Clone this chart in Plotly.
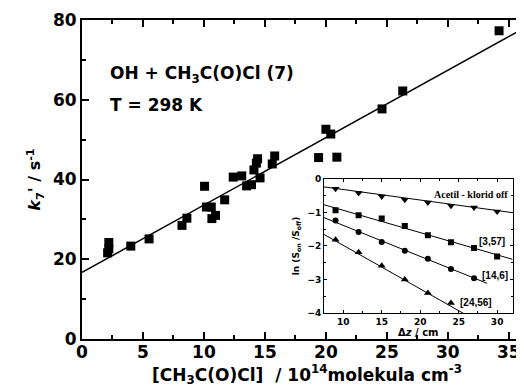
import plotly.graph_objects as go

# ---- main data ----
conc = [2.2, 2.2, 2.1, 4.0, 5.5, 8.2, 8.6, 10.05, 10.2, 10.6, 10.65, 10.95, 11.7,
        12.4, 13.1, 13.5, 13.9, 14.1, 14.3, 14.4, 14.6, 15.6, 15.8, 19.4, 20.0,
        20.4, 20.9, 24.6, 26.3, 34.2]
k7 = [24.2, 22.6, 21.6, 23.3, 25.1, 28.5, 30.3, 38.3, 33.1, 33.1, 30.2, 31.0, 34.9,
      40.6, 40.9, 38.4, 38.7, 42.4, 44.1, 45.2, 40.4, 43.9, 45.9, 45.5, 52.6,
      51.4, 45.6, 57.7, 62.2, 77.3]
fit_intercept = 16.7
fit_slope = 1.69
fit_x = [0, 37]

# ---- inset data ----
dz = [9, 12, 15, 18, 21, 24, 27, 30]
ln_off = [-0.29, -0.42, -0.52, -0.62, -0.70, -0.80, -0.85, -0.97]
ln_357 = [-0.93, -1.08, -1.18, -1.40, -1.68, -1.89, -2.06, -2.31]
dz_146 = [9, 12, 15, 18, 21, 24, 27]
ln_146 = [-1.24, -1.58, -1.88, -2.14, -2.38, -2.69, -2.96]
dz_2456 = [9, 12, 15, 18, 21, 24]
ln_2456 = [-1.81, -2.19, -2.59, -3.00, -3.40, -3.70]
# line fits: (intercept at dz=0, slope, x_start, x_end)
inset_fits = {
    "off": (-0.0, -0.0314, 7.5, 32),
    "357": (-0.27, -0.0665, 7.5, 32),
    "146": (-0.46, -0.0925, 7.5, 28.7),
    "2456": (-0.68, -0.130, 7.5, 26),
}
inset_labels = ["Acetil - klorid off", "[3,57]", "[14,6]", "[24,56]"]

FONT = "DejaVu Sans"
FONT2 = "Liberation Sans"
fig = go.Figure()

fig.add_trace(go.Scatter(
    x=fit_x, y=[fit_intercept + fit_slope * v for v in fit_x],
    mode="lines", line=dict(color="black", width=1.5), showlegend=False))
fig.add_trace(go.Scatter(
    x=conc, y=k7, mode="markers",
    marker=dict(symbol="square", size=9, color="black"), showlegend=False))

series = [
    ("off", dz, ln_off, "triangle-down", 7),
    ("357", dz, ln_357, "square", 6),
    ("146", dz_146, ln_146, "circle", 6),
    ("2456", dz_2456, ln_2456, "triangle-up", 7),
]
for key, xs, ys, sym, sz in series:
    b, m, x0, x1 = inset_fits[key]
    fig.add_trace(go.Scatter(
        x=[x0, x1], y=[b + m * x0, b + m * x1], mode="lines",
        line=dict(color="black", width=1), xaxis="x2", yaxis="y2",
        showlegend=False))
    fig.add_trace(go.Scatter(
        x=xs, y=ys, mode="markers", xaxis="x2", yaxis="y2",
        marker=dict(symbol=sym, size=sz, color="black"), showlegend=False))

tickfont_main = dict(family=FONT, size=17, color="black")
tickfont_in = dict(family=FONT, size=9, color="black")
B = dict(tickprefix="<b>", ticksuffix="</b>")

fig.update_layout(
    width=524, height=389,
    margin=dict(l=74, r=0, t=12, b=58),
    plot_bgcolor="white", paper_bgcolor="white",
    xaxis=dict(
        range=[0, 36.9], domain=[0, 1], showline=True, linecolor="black", linewidth=2,
        mirror="ticks", ticks="inside", ticklen=7, tickwidth=1.5, tickcolor="black",
        dtick=5, tick0=0, showgrid=False, zeroline=False, tickfont=tickfont_main,
        ticklabelstandoff=-3,
        minor=dict(ticks="inside", ticklen=4, dtick=2.5, tickcolor="black", tickwidth=1.5),
        title=dict(text="<b>[CH<sub>3</sub>C(O)Cl]  / 10<sup>14</sup>molekula cm<sup>-3</sup></b>",
                   font=dict(family=FONT, size=17, color="black"), standoff=0),
        **B,
    ),
    yaxis=dict(
        range=[0, 80], domain=[0, 1], showline=True, linecolor="black", linewidth=2,
        mirror=False, ticks="inside", ticklen=7, tickwidth=1.5, tickcolor="black",
        dtick=20, tick0=0, showgrid=False, zeroline=False, tickfont=tickfont_main,
        minor=dict(ticks="inside", ticklen=4, dtick=10, tickcolor="black", tickwidth=1.5),
        title=dict(text="<b><i>k</i><sub>7</sub>' / s<sup>-1</sup></b>",
                   font=dict(family=FONT, size=16, color="black"), standoff=8),
        **B,
    ),
    xaxis2=dict(
        range=[7.5, 32], domain=[0.5378, 0.9567], anchor="y2", showline=True,
        linecolor="black", linewidth=1, mirror="ticks", ticks="inside", ticklen=3,
        tickcolor="black", dtick=5, tick0=0, showgrid=False, zeroline=False,
        tickfont=tickfont_in,
        minor=dict(ticks="inside", ticklen=2, dtick=2.5, tickcolor="black"),
        title=dict(text="<b>\u0394<i>z</i> / cm</b>",
                   font=dict(family=FONT, size=10, color="black"), standoff=0),
        **B,
    ),
    yaxis2=dict(
        range=[-4, 0], domain=[0.0815, 0.5016], anchor="x2", showline=True,
        linecolor="black", linewidth=1, mirror="ticks", ticks="inside", ticklen=3,
        tickcolor="black", dtick=1, tick0=0, showgrid=False, zeroline=False,
        tickfont=tickfont_in,
        minor=dict(ticks="inside", ticklen=2, dtick=0.5, tickcolor="black"),
        title=dict(text="<b>ln (S<sub>on</sub> /S<sub>off</sub>)</b>",
                   font=dict(family=FONT, size=9, color="black"), standoff=6),
        **B,
    ),
)

fig.add_shape(type="rect", xref="x2 domain", yref="y2 domain", x0=0, x1=1, y0=0, y1=1,
              fillcolor="white", line=dict(width=0), layer="below")

fig.add_annotation(x=0.058, y=0.828, xref="paper", yref="paper", xanchor="left",
                   yanchor="middle", showarrow=False,
                   text="<b>OH + CH<sub>3</sub>C(O)Cl (7)</b>",
                   font=dict(family=FONT, size=17, color="black"))
fig.add_annotation(x=0.058, y=0.734, xref="paper", yref="paper", xanchor="left",
                   yanchor="middle", showarrow=False, text="<b>T = 298 K</b>",
                   font=dict(family=FONT, size=17, color="black"))

lab_pos = [(31.7, -0.45, "Liberation Serif", 10), (31.3, -1.88, FONT2, 10),
           (31.7, -2.88, FONT2, 10), (29.6, -3.70, FONT2, 10)]
for txt, (lx, ly, fam, fs) in zip(inset_labels, lab_pos):
    fig.add_annotation(x=lx, y=ly, xref="x2", yref="y2", xanchor="right",
                       yanchor="middle", showarrow=False, text="<b>" + txt + "</b>",
                       font=dict(family=fam, size=fs, color="black"))

fig.write_html("out.html")
